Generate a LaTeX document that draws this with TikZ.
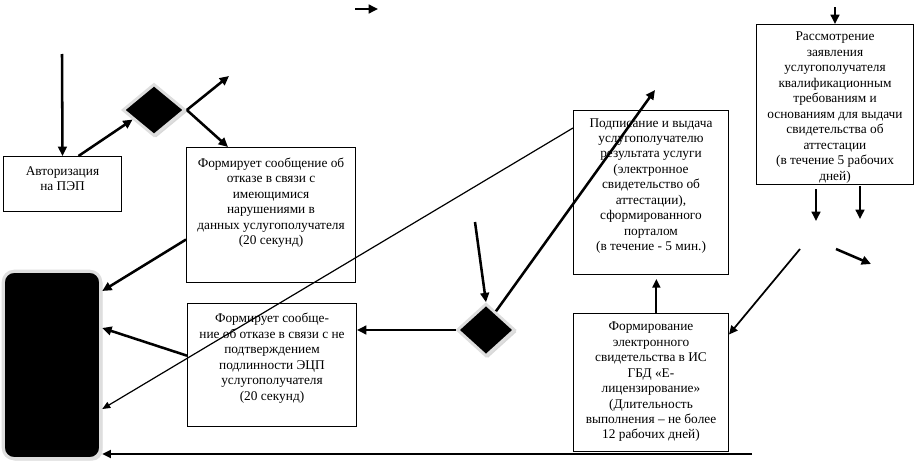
\documentclass[tikz,border=0pt]{standalone}
\usepackage{fontspec}
\setmainfont{Liberation Serif}
\usetikzlibrary{arrows.meta,positioning,shapes.geometric,shadows}

\begin{document}
\begin{tikzpicture}[x=0.75pt, y=-0.75pt,
box/.style={draw, line width=0.75pt, anchor=north west, inner sep=0pt},
txt/.style={align=center, inner sep=0pt, font=\fontsize{10}{11.6}\selectfont},
dec/.style={diamond, fill=black, draw=black!13, line width=2.2pt, inner sep=0pt,
  drop shadow={shadow xshift=1.5pt, shadow yshift=-1.5pt, fill=black!30}},
arr/.style={line width=1.9pt, -{Triangle[length=7pt,width=6.5pt]}},
arrmid/.style={line width=1.3pt, -{Triangle[length=6.5pt,width=6pt]}},
arrthin/.style={line width=0.9pt, -{Triangle[length=6pt,width=5pt]}}]

\useasboundingbox (0,0) rectangle (915,464);

% BOXES
\node[box, minimum width=88.5pt, minimum height=41.25pt] (auth) at (3,156) {};
\node[txt, below=7.5pt of auth.north] (auth-t) {Авторизация\\на ПЭП};

\node[box, minimum width=126.75pt, minimum height=101.25pt] (refuse1) at (186,147) {};
\node[txt, below=8pt of refuse1.north] (refuse1-t) {Формирует сообщение об\\отказе в связи с\\имеющимися\\нарушениями в\\данных услугополучателя\\(20 секунд)};

\node[box, minimum width=126.75pt, minimum height=92.25pt] (refuse2) at (187,303) {};
\node[txt, below=7.5pt of refuse2.north] (refuse2-t) {Формирует сообще-\\ние об отказе в связи с не\\подтверждением\\подлинности ЭЦП\\услугополучателя\\(20 секунд)};

\node[box, minimum width=116.25pt, minimum height=123pt] (sign) at (573,110) {};
\node[txt, below=6pt of sign.north] (sign-t) {Подписание и выдача\\услугополучателю\\результата услуги\\(электронное\\свидетельство об\\аттестации),\\сформированного\\порталом\\(в течение - 5 мин.)};

\node[box, minimum width=116.25pt, minimum height=103.5pt] (form) at (573,313) {};
\node[txt, below=6.5pt of form.north] (form-t) {Формирование\\электронного\\свидетельства в ИС\\ГБД «Е-\\лицензирование»\\(Длительность\\выполнения – не более\\12 рабочих дней)};

\node[box, minimum width=117.75pt, minimum height=120pt] (review) at (756,24) {};
\node[txt, below=6pt of review.north] (review-t) {Рассмотрение\\заявления\\услугополучателя\\квалификационным\\требованиям и\\основаниям для выдачи\\свидетельства об\\аттестации\\(в течение 5 рабочих\\дней)};

% DECISIONS AND USER
\node[dec, minimum width=47pt, minimum height=39pt] (chk1) at (154,110) {};
\node[dec, minimum width=43.5pt, minimum height=39.5pt] (chk2) at (486,330) {};
\node[fill=black, draw=black!13, line width=2.4pt, rounded corners=8pt,
  minimum width=73pt, minimum height=140.5pt,
  drop shadow={shadow xshift=1.5pt, shadow yshift=-1.5pt, fill=black!25}] (user) at (52,365) {};

% free ends
\coordinate (top0) at (355,9);
\coordinate (top1) at (378,9);
\coordinate (in1) at (62,54);
\coordinate (out1) at (229,76);
\coordinate (in2) at (475,222);
\coordinate (out2) at (655,90);
\coordinate (bot0) at (752,454);
\coordinate (rin) at (835,7);
\coordinate (rd1) at (816,189);
\coordinate (rd1e) at (816,221);
\coordinate (rd2) at (860,186);
\coordinate (rd2e) at (860,219);
\coordinate (fin) at (800,249);
\coordinate (fout) at (836,249);
\coordinate (fout2) at (871,264);

% ARROWS
\draw[arr] (top0) -- (top1);
\draw[arr] (in1) -- (auth.north);
\draw[arr] ([xshift=12pt]auth.north) -- (chk1.204);
\draw[arr] (chk1.east) -- (out1);
\draw[arr] (chk1.east) -- ([xshift=31.5pt]refuse1.north west);
\draw[arr] ([yshift=-18.4pt]refuse1.west) -- ([yshift=55.5pt]user.east);
\draw[arr] ([yshift=7pt]refuse2.west) -- ([yshift=27.75pt]user.east);
\draw[arrthin] ([yshift=-13.5pt]sign.north west) -- ([yshift=-33pt]user.east);
\draw[arr] (chk2.west) -- (chk2.west -| refuse2.east);
\draw[arrmid] (bot0) -- (bot0 -| user.east);
\draw[arr] (in2) -- (chk2.north);
\draw[arr] (chk2.62) -- (out2);
\draw[arrmid, shorten >=3pt] ([xshift=4pt]form.north) -- ([xshift=4pt]sign.south);
\draw[arrmid] (fin) -- ([yshift=36pt]form.east);
\draw[arr] (fout) -- (fout2);
\draw[arr] (rin) -- (rin |- review.north);
\draw[arr] (rd1) -- (rd1e);
\draw[arr] (rd2) -- (rd2e);

\end{tikzpicture}
\end{document}
